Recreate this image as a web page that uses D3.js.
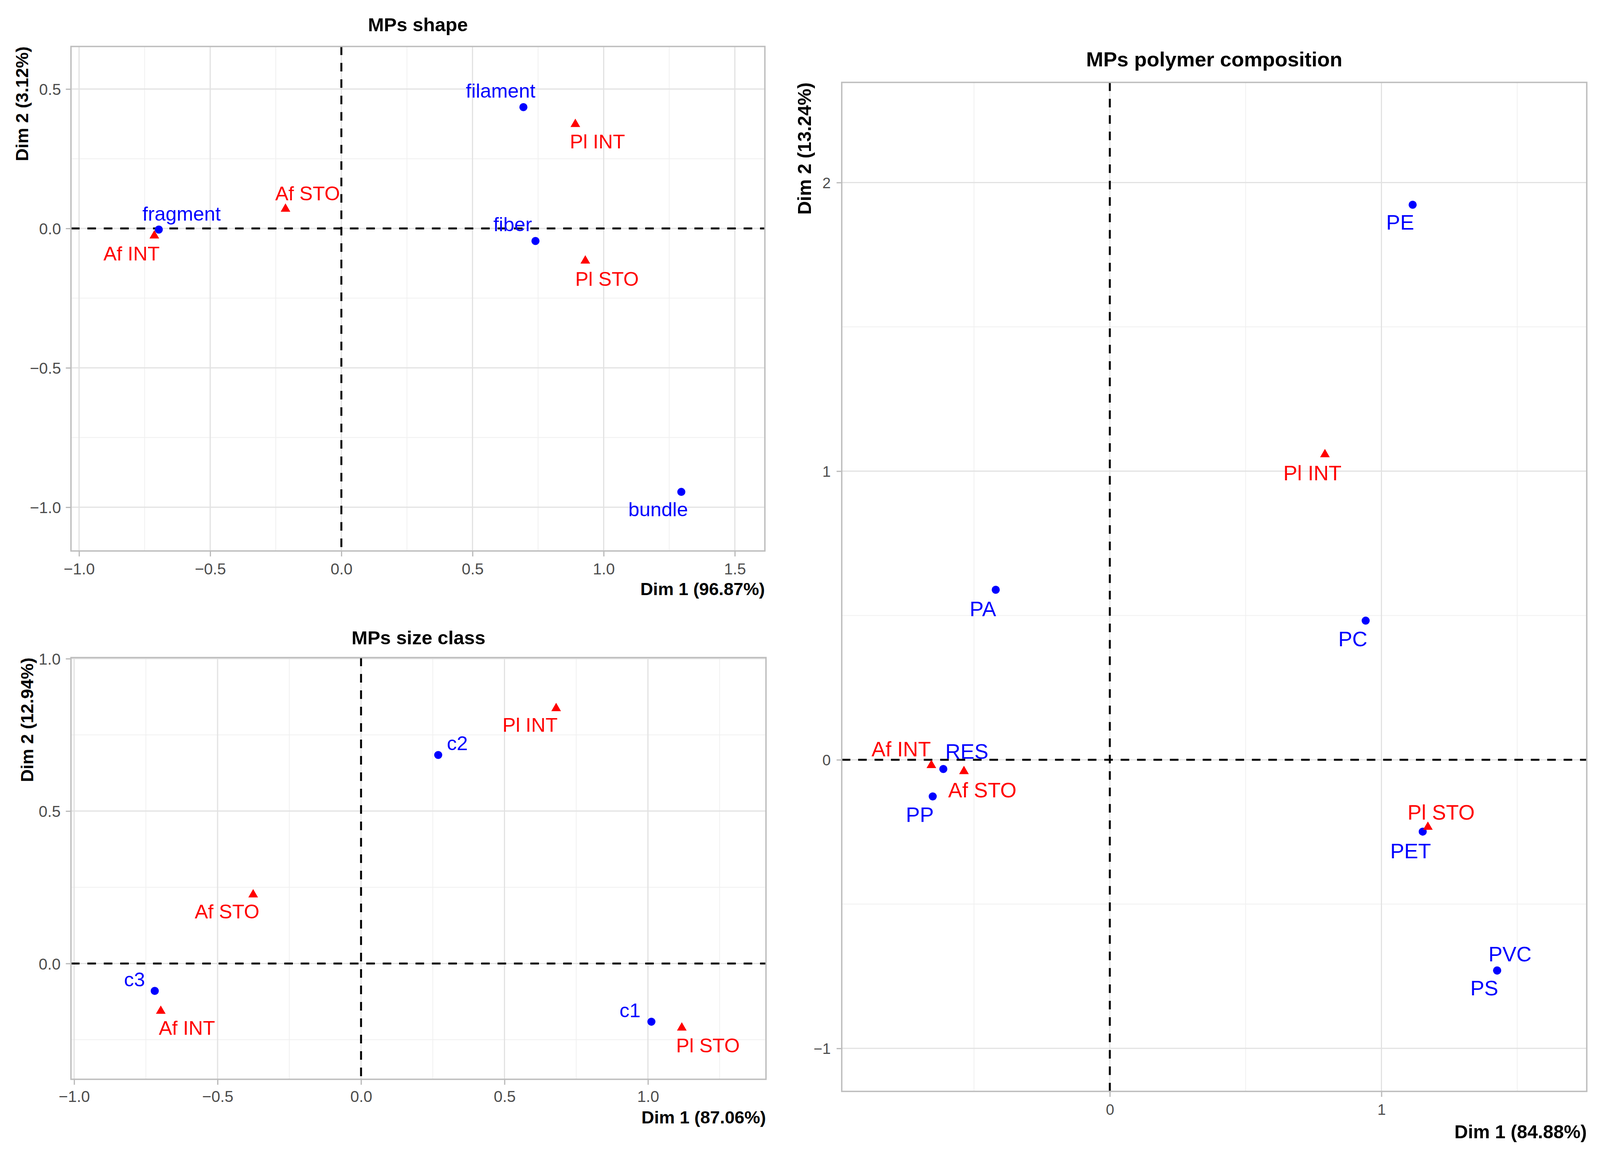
<!DOCTYPE html>
<html>
<head>
<meta charset="utf-8">
<script src="https://cdn.jsdelivr.net/npm/d3@7"></script>
<style>
html, body { margin: 0; padding: 0; background: #fff; overflow: hidden; }
svg { display: block; }
text { font-family: "Liberation Sans", Arial, Helvetica, sans-serif; }
</style>
</head>
<body>
<div id="plot"></div>
<script>
// ---- MPs shape ----
var shapeCols = ["filament", "fragment", "fiber", "bundle"];
var shapeColX = [0.694, -0.696, 0.740, 1.296];
var shapeColY = [0.435, -0.004, -0.045, -0.945];
var shapeRows = ["Af INT", "Af STO", "Pl INT", "Pl STO"];
var shapeRowX = [-0.713, -0.213, 0.892, 0.930];
var shapeRowY = [-0.026, 0.070, 0.374, -0.116];
var shapeXTicks = [-1.0, -0.5, 0.0, 0.5, 1.0, 1.5];
var shapeYTicks = [-1.0, -0.5, 0.0, 0.5];

// ---- MPs size class ----
var sizeCols = ["c1", "c2", "c3"];
var sizeColX = [1.012, 0.269, -0.719];
var sizeColY = [-0.191, 0.684, -0.090];
var sizeRows = ["Af INT", "Af STO", "Pl INT", "Pl STO"];
var sizeRowX = [-0.698, -0.376, 0.680, 1.118];
var sizeRowY = [-0.156, 0.226, 0.837, -0.211];
var sizeXTicks = [-1.0, -0.5, 0.0, 0.5, 1.0];
var sizeYTicks = [0.0, 0.5, 1.0];

// ---- MPs polymer composition ----
var polyCols = ["PE", "PA", "PC", "RES", "PP", "PET", "PVC", "PS"];
var polyColX = [1.115, -0.420, 0.942, -0.613, -0.652, 1.152, 1.426, 1.426];
var polyColY = [1.923, 0.589, 0.482, -0.032, -0.127, -0.249, -0.730, -0.730];
var polyRows = ["Af INT", "Af STO", "Pl INT", "Pl STO"];
var polyRowX = [-0.657, -0.537, 0.792, 1.171];
var polyRowY = [-0.019, -0.040, 1.058, -0.233];
var polyXTicks = [0, 1];
var polyYTicks = [-1, 0, 1, 2];

// label nudges (px) so the text sits next to its point
var shapeColNudge = [[-62, -24], [62, -23], [-62, -25], [-63, 62]];
var shapeRowNudge = [[-62, 63], [60, -22], [60, 62], [59, 64]];
var sizeColNudge = [[-58, -12], [52, -12], [-55, -12]];
var sizeRowNudge = [[71, 61], [-71, 61], [-71, 60], [71, 63]];
var polyColNudge = [[-34, 64], [-35, 68], [-35, 66], [64, -26], [-35, 65], [-33, 68], [35, -23], [-35, 64]];
var polyRowNudge = [[-82, -23], [50, 67], [-34, 66], [36, -19]];

// layout is written for a 4351x2963 page; stretch it to whatever the window is
var W = 4351, H = 2963;
var vw = window.innerWidth || W, vh = window.innerHeight || H;
var sx = vw / W, sy = vh / H;
var sf = sx; // font / mark scale

var svg = d3.select("#plot").append("svg")
	.attr("width", vw)
	.attr("height", vh)
	.style("background", "#fff");

function minus(s) { return s.replace("-", "\u2212"); }
var fmt1 = function(d) { return minus(d3.format(".1f")(d)); };
var fmt0 = function(d) { return minus(d3.format("d")(d)); };

function mids(ticks, step) {
	var out = [];
	var lo = ticks[0] - step, hi = ticks[ticks.length - 1] + step;
	for (var v = lo; v <= hi + 1e-9; v += step) out.push(v + step / 2);
	return out;
}

function drawPanel(p) {
	var g = svg.append("g");
	var left = p.left * sx, right = p.right * sx, top = p.top * sy, bottom = p.bottom * sy;
	var x = d3.scaleLinear().domain(p.xDomain).range([left, right]);
	var y = d3.scaleLinear().domain(p.yDomain).range([bottom, top]);
	var inX = function(v) { return v >= p.xDomain[0] && v <= p.xDomain[1]; };
	var inY = function(v) { return v >= p.yDomain[0] && v <= p.yDomain[1]; };

	// minor grid
	g.append("g").selectAll("line")
		.data(mids(p.xTicks, p.xStep).filter(inX))
		.enter().append("line")
		.attr("x1", function(d) { return x(d); }).attr("x2", function(d) { return x(d); })
		.attr("y1", top).attr("y2", bottom)
		.attr("stroke", "#f0f0f0").attr("stroke-width", 2);
	g.append("g").selectAll("line")
		.data(mids(p.yTicks, p.yStep).filter(inY))
		.enter().append("line")
		.attr("y1", function(d) { return y(d); }).attr("y2", function(d) { return y(d); })
		.attr("x1", left).attr("x2", right)
		.attr("stroke", "#f0f0f0").attr("stroke-width", 2);

	// major grid
	g.append("g").selectAll("line")
		.data(p.xTicks)
		.enter().append("line")
		.attr("x1", function(d) { return x(d); }).attr("x2", function(d) { return x(d); })
		.attr("y1", top).attr("y2", bottom)
		.attr("stroke", "#e2e2e2").attr("stroke-width", 3);
	g.append("g").selectAll("line")
		.data(p.yTicks)
		.enter().append("line")
		.attr("y1", function(d) { return y(d); }).attr("y2", function(d) { return y(d); })
		.attr("x1", left).attr("x2", right)
		.attr("stroke", "#e2e2e2").attr("stroke-width", 3);

	// axes
	var xa = g.append("g")
		.attr("transform", "translate(0," + bottom + ")")
		.call(d3.axisBottom(x).tickValues(p.xTicks).tickFormat(p.fmt).tickSize(14 * sy));
	xa.select(".domain").remove();
	xa.selectAll("line").attr("stroke", "#b8b8b8").attr("stroke-width", 3);
	xa.selectAll("text")
		.attr("y", p.xLabelGap * sy).attr("dy", 0)
		.attr("fill", "#4d4d4d")
		.attr("font-family", "Liberation Sans, Arial, sans-serif")
		.attr("font-size", p.tickFont * sf);

	var ya = g.append("g")
		.attr("transform", "translate(" + left + ",0)")
		.call(d3.axisLeft(y).tickValues(p.yTicks).tickFormat(p.fmt).tickSize(14 * sx));
	ya.select(".domain").remove();
	ya.selectAll("line").attr("stroke", "#b8b8b8").attr("stroke-width", 3);
	ya.selectAll("text")
		.attr("x", -p.yLabelGap * sx).attr("dy", "0.36em")
		.attr("fill", "#4d4d4d")
		.attr("font-family", "Liberation Sans, Arial, sans-serif")
		.attr("font-size", p.tickFont * sf);

	// dashed zero lines
	g.append("line")
		.attr("x1", x(0)).attr("x2", x(0)).attr("y1", top).attr("y2", bottom)
		.attr("stroke", "#000").attr("stroke-width", 5).attr("stroke-dasharray", "22,20");
	g.append("line")
		.attr("y1", y(0)).attr("y2", y(0)).attr("x1", left).attr("x2", right)
		.attr("stroke", "#000").attr("stroke-width", 5).attr("stroke-dasharray", "22,20");

	// panel border
	g.append("rect")
		.attr("x", left).attr("y", top)
		.attr("width", right - left).attr("height", bottom - top)
		.attr("fill", "none").attr("stroke", "#bdbdbd").attr("stroke-width", 3.5);

	var cols = p.cols.map(function(n, i) { return {name: n, x: p.colX[i], y: p.colY[i], nudge: p.colNudge[i]}; });
	var rows = p.rows.map(function(n, i) { return {name: n, x: p.rowX[i], y: p.rowY[i], nudge: p.rowNudge[i]}; });

	// column points (blue circles)
	g.append("g").selectAll("circle")
		.data(cols)
		.enter().append("circle")
		.attr("cx", function(d) { return x(d.x); })
		.attr("cy", function(d) { return y(d.y); })
		.attr("r", 11 * sf)
		.style("fill", "#0000ff");

	// row points (red triangles)
	g.append("g").selectAll("path")
		.data(rows)
		.enter().append("path")
		.attr("d", d3.symbol().type(d3.symbolTriangle).size(300 * sf * sf))
		.attr("transform", function(d) { return "translate(" + x(d.x) + "," + y(d.y) + ")"; })
		.style("fill", "#ff0000");

	g.append("g").selectAll("text")
		.data(cols)
		.enter().append("text")
		.attr("x", function(d) { return x(d.x) + d.nudge[0] * sx; })
		.attr("y", function(d) { return y(d.y) + d.nudge[1] * sy; })
		.attr("text-anchor", "middle")
		.attr("font-size", p.labelFont * sf)
		.attr("fill", "#0000ff")
		.text(function(d) { return d.name; });

	g.append("g").selectAll("text")
		.data(rows)
		.enter().append("text")
		.attr("x", function(d) { return x(d.x) + d.nudge[0] * sx; })
		.attr("y", function(d) { return y(d.y) + d.nudge[1] * sy; })
		.attr("text-anchor", "middle")
		.attr("font-size", p.labelFont * sf)
		.attr("fill", "#ff0000")
		.text(function(d) { return d.name; });

	// titles
	g.append("text")
		.attr("x", (left + right) / 2).attr("y", p.titleY * sy)
		.attr("text-anchor", "middle")
		.attr("font-weight", "bold")
		.attr("font-size", p.titleFont * sf)
		.text(p.title);

	g.append("text")
		.attr("x", right).attr("y", bottom + p.xTitleGap * sy)
		.attr("text-anchor", "end")
		.attr("font-weight", "bold")
		.attr("font-size", p.axisFont * sf)
		.text(p.xTitle);

	g.append("text")
		.attr("transform", "translate(" + (p.yTitleX * sx) + "," + top + ") rotate(-90)")
		.attr("text-anchor", "end")
		.attr("font-weight", "bold")
		.attr("font-size", p.axisFont * sf)
		.text(p.yTitle);
}

drawPanel({
	title: "MPs shape", xTitle: "Dim 1 (96.87%)", yTitle: "Dim 2 (3.12%)",
	left: 193, right: 2080, top: 119, bottom: 1411,
	xDomain: [-1.0308, 1.6146], yDomain: [-1.1569, 0.6527],
	xTicks: shapeXTicks, yTicks: shapeYTicks, xStep: 0.5, yStep: 0.5, fmt: fmt1,
	cols: shapeCols, colX: shapeColX, colY: shapeColY, colNudge: shapeColNudge,
	rows: shapeRows, rowX: shapeRowX, rowY: shapeRowY, rowNudge: shapeRowNudge,
	titleY: 80, xTitleGap: 113, yTitleX: 77, xLabelGap: 60, yLabelGap: 27,
	titleFont: 52, axisFont: 48, tickFont: 43, labelFont: 54
});

drawPanel({
	title: "MPs size class", xTitle: "Dim 1 (87.06%)", yTitle: "Dim 2 (12.94%)",
	left: 193, right: 2083, top: 1684, bottom: 2764,
	xDomain: [-1.0110, 1.4114], yDomain: [-0.3799, 1.0036],
	xTicks: sizeXTicks, yTicks: sizeYTicks, xStep: 0.5, yStep: 0.5, fmt: fmt1,
	cols: sizeCols, colX: sizeColX, colY: sizeColY, colNudge: sizeColNudge,
	rows: sizeRows, rowX: sizeRowX, rowY: sizeRowY, rowNudge: sizeRowNudge,
	titleY: 1650, xTitleGap: 113, yTitleX: 90, xLabelGap: 58, yLabelGap: 28,
	titleFont: 52, axisFont: 48, tickFont: 43, labelFont: 54
});

drawPanel({
	title: "MPs polymer composition", xTitle: "Dim 1 (84.88%)", yTitle: "Dim 2 (13.24%)",
	left: 2289, right: 4315, top: 211, bottom: 2795,
	xDomain: [-0.987, 1.756], yDomain: [-1.149, 2.347],
	xTicks: polyXTicks, yTicks: polyYTicks, xStep: 1, yStep: 1, fmt: fmt0,
	cols: polyCols, colX: polyColX, colY: polyColY, colNudge: polyColNudge,
	rows: polyRows, rowX: polyRowX, rowY: polyRowY, rowNudge: polyRowNudge,
	titleY: 170, xTitleGap: 120, yTitleX: 2205, xLabelGap: 60, yLabelGap: 30,
	titleFont: 56, axisFont: 51, tickFont: 41, labelFont: 57
});
</script>
</body>
</html>
